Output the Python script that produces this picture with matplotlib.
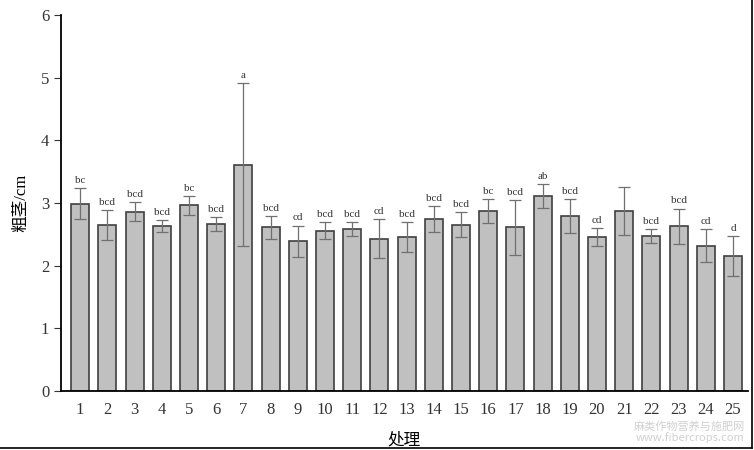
import matplotlib.pyplot as plt
from matplotlib.lines import Line2D
import numpy as np

plt.rcParams['font.family'] = ['Liberation Serif', 'Noto Sans CJK SC']

treatments = [str(i) for i in range(1, 26)]
means = [2.99, 2.65, 2.86, 2.63, 2.96, 2.66, 3.61, 2.61, 2.39, 2.56,
         2.59, 2.43, 2.46, 2.74, 2.65, 2.87, 2.61, 3.11, 2.79, 2.46,
         2.87, 2.47, 2.63, 2.32, 2.15]
errs = [0.25, 0.24, 0.15, 0.10, 0.15, 0.11, 1.30, 0.18, 0.25, 0.13,
        0.11, 0.31, 0.24, 0.21, 0.20, 0.19, 0.44, 0.19, 0.27, 0.14,
        0.38, 0.11, 0.28, 0.26, 0.32]
letters = ['bc', 'bcd', 'bcd', 'bcd', 'bc', 'bcd', 'a', 'bcd', 'cd', 'bcd',
           'bcd', 'cd', 'bcd', 'bcd', 'bcd', 'bc', 'bcd', 'ab', 'bcd', 'cd',
           '', 'bcd', 'bcd', 'cd', 'd']

fig = plt.figure(figsize=(7.54, 4.5), dpi=100)
ax = fig.add_axes([0.081, 0.131, 0.911, 0.836])

x = np.arange(1, len(means) + 1)
ax.bar(x, means, width=0.66, color='#c0c0c0', edgecolor='#404040', linewidth=1.2, zorder=2)
ax.errorbar(x, means, yerr=errs, fmt='none', ecolor='#707070', elinewidth=0.9,
            capsize=4, capthick=0.9, zorder=3)

for xi, m, e, lab in zip(x, means, errs, letters):
    if lab:
        ax.text(xi, m + e + 0.05, lab, ha='center', va='bottom', fontsize=8, color='#333333')

ax.set_xlim(0.3, 25.55)
ax.set_ylim(0, 6)
ax.set_xticks(x)
ax.set_xticklabels(treatments)
ax.set_yticks(range(0, 7))
ax.tick_params(axis='x', length=0, labelsize=12, pad=8, colors='#333333')
ax.tick_params(axis='y', direction='out', length=5, labelsize=12, colors='#333333')
ax.spines['top'].set_visible(False)
ax.spines['right'].set_visible(False)
ax.spines['left'].set_linewidth(1.3)
ax.spines['bottom'].set_linewidth(1.3)
ax.set_xlabel('处理', fontsize=12, labelpad=10)
ax.set_ylabel('粗茎/cm', fontsize=12, labelpad=8)

# image frame on right and bottom
fig.add_artist(Line2D([0.997, 0.997], [0.005, 1.0], color='black', linewidth=1.2))
fig.add_artist(Line2D([0.0, 0.997], [0.005, 0.005], color='black', linewidth=1.2))

fig.text(0.988, 0.04, '麻类作物营养与施肥网\nwww.fibercrops.com', ha='right', va='center',
         fontsize=8, color='#d0d0d0', family=['Noto Sans CJK SC', 'DejaVu Sans'], linespacing=1.0)

fig.savefig('out.png', dpi=100)
